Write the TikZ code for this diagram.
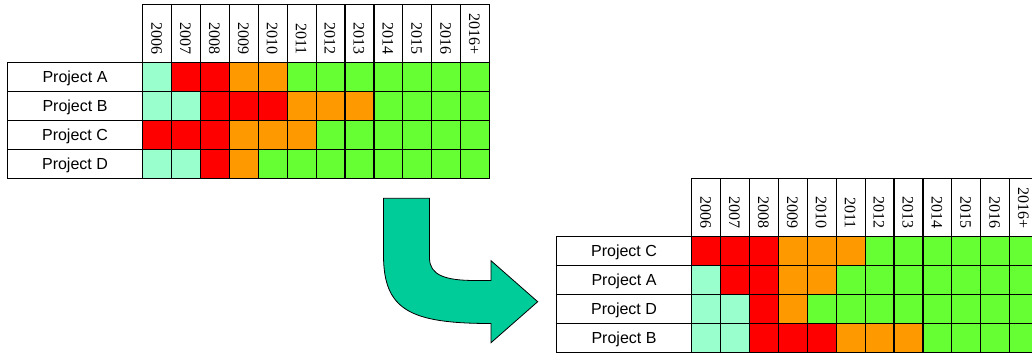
\documentclass[tikz,border=0pt]{standalone}
\usepackage{fontspec}
\setmainfont{Liberation Serif}
\newfontfamily\labelfont{Liberation Sans}
\definecolor{cM}{HTML}{99FFCC}
\definecolor{cR}{HTML}{FF0000}
\definecolor{cO}{HTML}{FF9900}
\definecolor{cG}{HTML}{66FF33}
\definecolor{arrowc}{HTML}{00CC99}
\tikzset{
  cell/.style={draw=black, line width=1.2pt, minimum width=28.9pt, minimum height=29pt,
    inner sep=0pt, outer sep=0pt, anchor=north west},
  headcell/.style={cell, fill=white, minimum height=58pt},
  labelcell/.style={cell, fill=white, minimum width=135.4pt,
    text height=11.5pt, text depth=0pt,
    font=\labelfont\fontsize{16}{18}\selectfont},
  yeartext/.style={rotate=-90, anchor=east, inner sep=0pt,
    font=\fontsize{16}{17}\selectfont},
  bigarrow/.style={fill=arrowc, draw=black, line width=0.8pt, line join=miter}
}
\newcommand{\mkgantt}[4]{%
  % #1 prefix, #2 x offset, #3 y offset, #4 rows
  \foreach \yr [count=\k] in {2006,2007,2008,2009,2010,2011,2012,2013,2014,2015,2016,2016+} {
    \node[headcell] (#1h\k) at ({#2+135.4+28.9*(\k-1)}, #3) {};
    \node[yeartext] (#1y\k) at ({#2+135.4+28.9*(\k-0.5)-0.6}, {#3+50.8}) {\yr};
  }
  \foreach \pname/\cols [count=\r] in {#4} {
    \node[labelcell] (#1l\r) at (#2, {#3+58+29*(\r-1)}) {Project \pname};
    \foreach \c [count=\k] in \cols {
      \node[cell, fill=\c] (#1c\r-\k) at ({#2+135.4+28.9*(\k-1)}, {#3+58+29*(\r-1)}) {};
    }
  }
}
\begin{document}
\begin{tikzpicture}[x=1pt, y=-1pt]
\useasboundingbox (0,0) rectangle (1032,353);
\fill[white] (0,0) rectangle (1032,353);
\clip (0,0) rectangle (1032,353);
\mkgantt{t}{7.3}{4.3}{%
  A/{cM,cR,cR,cO,cO,cG,cG,cG,cG,cG,cG,cG},
  B/{cM,cM,cR,cR,cR,cO,cO,cO,cG,cG,cG,cG},
  C/{cR,cR,cR,cO,cO,cO,cG,cG,cG,cG,cG,cG},
  D/{cM,cM,cR,cO,cG,cG,cG,cG,cG,cG,cG,cG}}
\mkgantt{b}{556.3}{178.3}{%
  C/{cR,cR,cR,cO,cO,cO,cG,cG,cG,cG,cG,cG},
  A/{cM,cR,cR,cO,cO,cG,cG,cG,cG,cG,cG,cG},
  D/{cM,cM,cR,cO,cG,cG,cG,cG,cG,cG,cG,cG},
  B/{cM,cM,cR,cR,cR,cO,cO,cO,cG,cG,cG,cG}}
\draw[bigarrow] (383.5,198.3) -- (429.5,198.3) -- (429.5,258)
  .. controls (429.5,275) and (445,280.5) .. (475,280.5) -- (491,280.5)
  -- (491,260.7) -- (537.7,301.7) -- (491,342.7) -- (491,323.5)
  .. controls (410,323.5) and (383.5,310) .. (383.5,255) -- cycle;
\end{tikzpicture}
\end{document}
